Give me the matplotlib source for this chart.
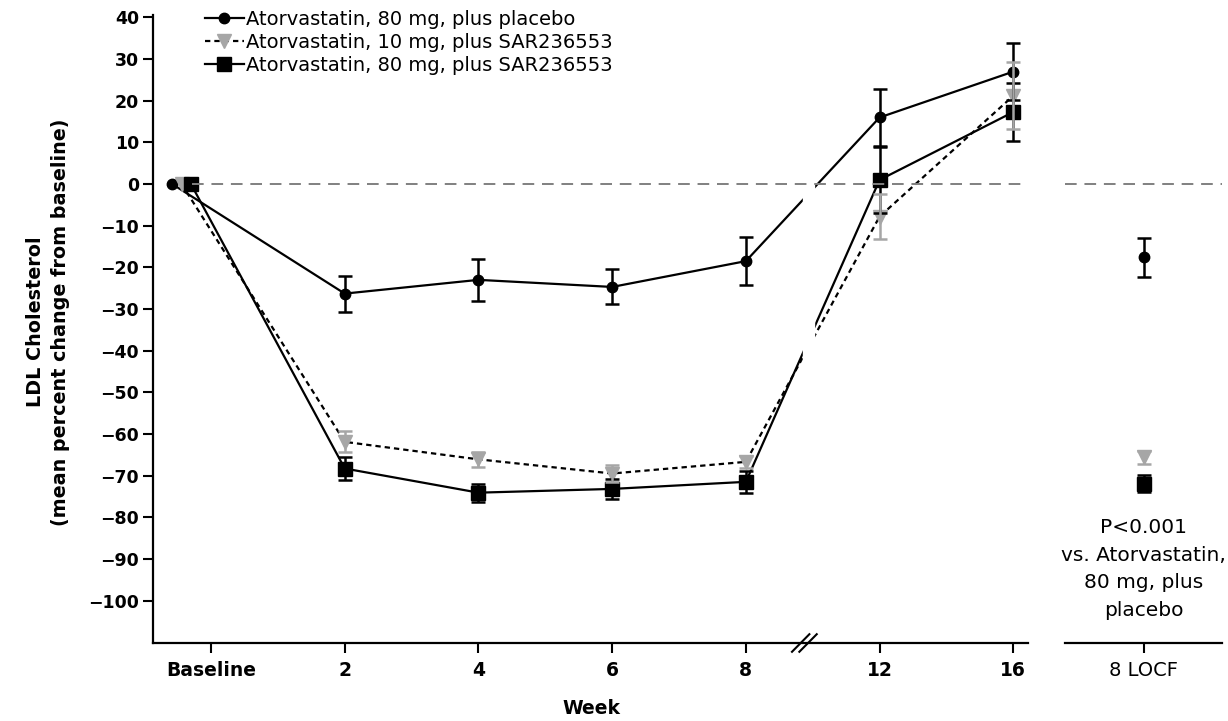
"""
LDL cholesterol, mean percent change from baseline, by treatment group.
Main panel over weeks (with an axis break between week 8 and 12) and a
small side panel for the week-8 LOCF values.
"""

import matplotlib
matplotlib.use('Agg')

import numpy as np
import matplotlib.pyplot as plt

plt.rcParams['font.family'] = ['DejaVu Sans']

# ================================================================
# Data
# ================================================================

week_labels = ['Baseline', '2', '4', '6', '8', '12', '16']

series_labels = ['Atorvastatin, 80 mg, plus placebo',
                 'Atorvastatin, 10 mg, plus SAR236553',
                 'Atorvastatin, 80 mg, plus SAR236553']

placebo_mean = [0, -26.3, -23.0, -24.7, -18.5, 16.0, 27.0]
placebo_err  = [0, 4.3, 5.0, 4.2, 5.8, 6.8, 6.8]

sar10_mean = [0, -61.9, -66.1, -69.5, -66.7, -7.8, 21.2]
sar10_err  = [0, 2.5, 1.8, 2.0, 1.5, 5.5, 8.0]

sar80_mean = [0, -68.3, -74.1, -73.2, -71.5, 1.0, 17.3]
sar80_err  = [0, 2.7, 2.2, 2.4, 2.6, 8.0, 7.0]

locf_label = '8 LOCF'
locf_mean = [-17.6, -65.6, -71.9]
locf_err  = [4.7, 1.5, 2.0]

y_ticks = list(range(40, -101, -10))

# ================================================================
# Styles
# ================================================================

GRAY = '#a6a6a6'
# baseline points are nudged left of the tick in the original
baseline_shift = [-0.29, -0.22, -0.15]
styles = [
    dict(marker='o', ms=7.5, color='black', mfc='black', mec='black',
         ls='-', ecolor='black', ez=2.2),
    dict(marker='v', ms=9.5, color='black', mfc=GRAY, mec=GRAY,
         ls=(0, (2.4, 1.8)), ecolor=GRAY, ez=2.4),
    dict(marker='s', ms=10, color='black', mfc='black', mec='black',
         ls='-', ecolor='black', ez=2.2),
]
means = [placebo_mean, sar10_mean, sar80_mean]
errs = [placebo_err, sar10_err, sar80_err]

YMIN, YMAX = -110.2, 40.6

fig = plt.figure(figsize=(12.28, 7.21), dpi=100)
W, H = 1228, 721
bottom = 1 - 643 / H
height = (643 - 15) / H
ax = fig.add_axes([153 / W, bottom, (1028 - 153) / W, height])
ax2 = fig.add_axes([1065 / W, bottom, (1222 - 1065) / W, height])

pos = np.arange(len(week_labels), dtype=float)

handles = []
for i in range(3):
    st = styles[i]
    x = pos.copy()
    x[0] += baseline_shift[i]
    ln, = ax.plot(x, means[i], color=st['color'], ls=st['ls'], lw=1.6,
                  marker=st['marker'], ms=st['ms'], mfc=st['mfc'],
                  mec=st['mec'], zorder=2, label=series_labels[i])
    ax.errorbar(x[1:], means[i][1:], yerr=errs[i][1:], fmt='none',
                ecolor=st['ecolor'], elinewidth=1.8, capsize=5,
                capthick=1.8, zorder=st['ez'])
    handles.append(ln)

    ax2.plot([0], [locf_mean[i]], ls='none', marker=st['marker'],
             ms=st['ms'], mfc=st['mfc'], mec=st['mec'], zorder=3)
    ax2.errorbar([0], [locf_mean[i]], yerr=[locf_err[i]], fmt='none',
                 ecolor=st['ecolor'], elinewidth=1.8, capsize=5,
                 capthick=1.8, zorder=2.5)

# gap in the lines across the axis break
ax.axvspan(4.43, 4.51, ymin=0.15, ymax=0.97, color='white', zorder=3)

# zero reference line
ax.axhline(0, xmin=0.045, color='#808080', lw=1.4, ls=(0, (6, 4)), zorder=4)
ax2.axhline(0, color='#808080', lw=1.4, ls=(0, (6, 4)), zorder=4)

# ---- main axis ----
ax.set_xlim(-0.434, 6.11)
ax.set_ylim(YMIN, YMAX)
ax.set_yticks(y_ticks)
ax.set_xticks(pos)
ax.set_xticklabels(week_labels)
ax.spines['top'].set_visible(False)
ax.spines['right'].set_visible(False)
for s in ('left', 'bottom'):
    ax.spines[s].set_linewidth(1.6)
ax.tick_params(direction='out', length=7, width=1.5)
ax.tick_params(axis='y', labelsize=12.5, pad=3)
ax.tick_params(axis='x', labelsize=13.5, pad=6)
for lab in ax.get_yticklabels() + ax.get_xticklabels():
    lab.set_fontweight('bold')

# break marks on the x axis
tr = ax.get_xaxis_transform()
for cx in (4.41, 4.465):
    ax.plot([cx - 0.065, cx + 0.065], [-0.014, 0.014], color='black',
            lw=1.5, transform=tr, clip_on=False, zorder=5)

fig.text(591 / W, 1 - 708 / H, 'Week', ha='center', va='center',
         fontsize=13.5, fontweight='bold')
fig.text(48 / W, 1 - 322 / H,
         'LDL Cholesterol\n(mean percent change from baseline)',
         rotation=90, ha='center', va='center', multialignment='center',
         fontsize=13.8, fontweight='bold', linespacing=1.4)

ax.legend(handles=handles, loc='upper left', bbox_to_anchor=(0.059, 1.008),
          frameon=False, fontsize=14, handlelength=2.0, handletextpad=0.15,
          labelspacing=0.2, borderpad=0, borderaxespad=0)

# ---- LOCF side panel ----
ax2.set_xlim(-1, 1)
ax2.set_ylim(YMIN, YMAX)
for s in ('top', 'right', 'left'):
    ax2.spines[s].set_visible(False)
ax2.spines['bottom'].set_linewidth(1.6)
ax2.set_yticks([])
ax2.set_xticks([0])
ax2.set_xticklabels([locf_label])
ax2.tick_params(direction='out', length=7, width=1.5, labelsize=14, pad=6)
ax2.text(0, -80.2, 'P<0.001\nvs. Atorvastatin,\n80 mg, plus\nplacebo',
         ha='center', va='top', fontsize=14.5, linespacing=1.58)

fig.savefig('out.png', dpi=100)
